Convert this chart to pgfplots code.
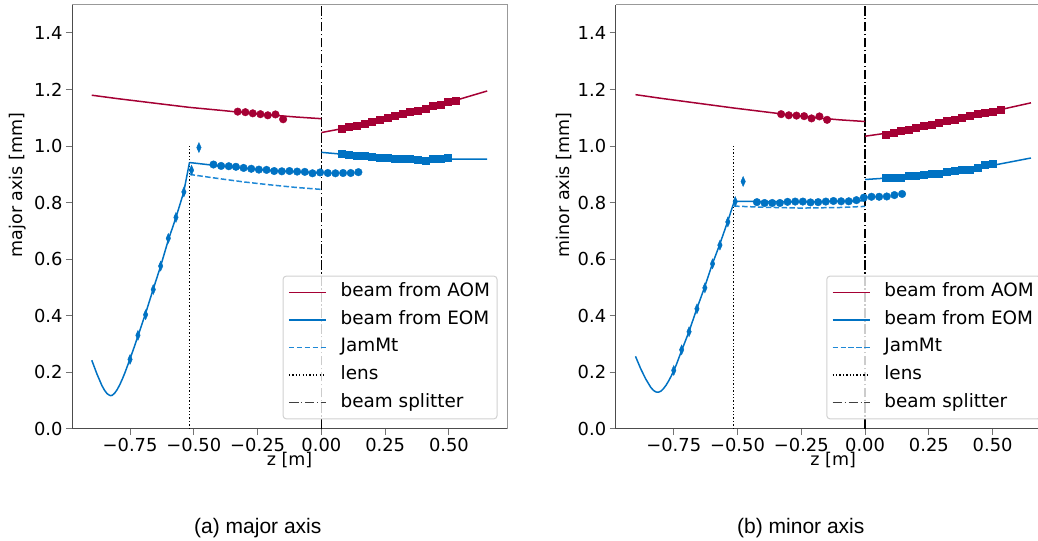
\documentclass[border=0pt]{standalone}
\usepackage{fontspec}
\setmainfont{DejaVu Sans}
\newfontfamily\capfont{Liberation Sans}
\usepackage{pgfplots}
\pgfplotsset{compat=1.18}
\definecolor{aom}{RGB}{165,0,52}
\definecolor{eom}{RGB}{0,114,195}
\definecolor{jam}{RGB}{30,136,214}
\newcommand{\fs}{\fontsize{17.5bp}{21bp}\selectfont}
\newcommand{\ft}{\fontsize{17.9bp}{21bp}\selectfont}
\newcommand{\fl}{\fontsize{18.4bp}{22bp}\selectfont}
\tikzset{
  lw/.style={line width=1.5bp},
  aomL/.style={draw=aom, line width=1.5bp},
  eomL/.style={draw=eom, line width=1.5bp},
  jamL/.style={draw=jam, line width=1.5bp, dash pattern=on 5.5bp off 2.4bp},
  lensL/.style={draw=black, line width=1.3bp, dash pattern=on 1.3bp off 2.1bp},
  bsL/.style={draw=black, line width=1.5bp, dash pattern=on 9.6bp off 2.4bp on 1.5bp off 2.4bp},
}
\pgfplotsset{
  myaxis/.style={
    scale only axis, width=435bp, height=424.3bp, anchor=south west,
    xmin=-0.9775, xmax=0.7275, ymin=0, ymax=1.5,
    xtick={-0.75,-0.5,-0.25,0,0.25,0.5},
    xticklabels={−0.75,−0.50,−0.25,0.00,0.25,0.50},
    ytick={0,0.2,0.4,0.6,0.8,1.0,1.2,1.4},
    yticklabels={0.0,0.2,0.4,0.6,0.8,1.0,1.2,1.4},
    axis x line*=bottom, axis y line*=left,
    axis line style={-, color=black!70, line width=1bp},
    tick align=outside, major tick length=6bp,
    tick style={color=black!55, line width=1bp},
    tick label style={font=\ft, text=black},
    extra description/.code={\draw[black!40, line width=1bp] (0,1) -- (1,1) -- (1,0);},
    legend style={at={(1,0)}, anchor=south east, xshift=-9.5bp, yshift=9.7bp,
      draw=black!18, line width=1bp, rounded corners=3bp, fill=white, fill opacity=0.8, text opacity=1,
      font=\fl, inner xsep=5bp, inner ysep=5.6bp, row sep=6.6bp,
      nodes={inner sep=2bp, text height=13bp, text depth=4bp},
      /tikz/every odd column/.append style={column sep=12bp}},
    legend cell align=left,
    legend image code/.code={\draw[##1] (0bp,0bp) -- (37bp,0bp);},
  },
  circ/.style={only marks, mark=*, mark size=3.8bp, forget plot},
  sq/.style={only marks, mark=square*, mark size=3.5bp, forget plot},
  dia/.style={only marks, mark=diamond*, mark size=5bp, mark options={xscale=0.6}, forget plot},
}
\begin{document}
\begin{tikzpicture}
% ---------------- (a) major axis ----------------
\begin{axis}[myaxis, at={(72bp,112bp)}]
\addplot[lensL, forget plot] coordinates {(-0.517,0) (-0.517,1.0)};
\addplot[bsL, forget plot] coordinates {(0,0) (0,1.5)};
% AOM
\addplot[aomL, forget plot] coordinates {(-0.9,1.180) (-0.8,1.168) (-0.7,1.157) (-0.6,1.146) (-0.517,1.137) (-0.4,1.127) (-0.3,1.118) (-0.2,1.110) (-0.1,1.103) (0,1.097)};
\addplot[aomL, forget plot] coordinates {(0,1.048) (0.1,1.065) (0.2,1.084) (0.3,1.106) (0.4,1.130) (0.5,1.155) (0.65,1.195)};
% EOM
\addplot[eomL, forget plot] coordinates {(-0.90,0.243) (-0.88,0.195) (-0.86,0.153) (-0.85,0.137) (-0.84,0.125) (-0.83,0.119) (-0.826,0.118) (-0.82,0.119) (-0.81,0.127) (-0.80,0.140) (-0.79,0.157) (-0.78,0.177) (-0.77,0.199) (-0.75,0.248) (-0.73,0.299) (-0.71,0.353) (-0.69,0.406) (-0.66,0.492) (-0.63,0.576) (-0.60,0.668) (-0.57,0.748) (-0.54,0.836) (-0.517,0.942)};
\addplot[eomL, forget plot] coordinates {(-0.517,0.942) (-0.4,0.930) (-0.3,0.921) (-0.2,0.914) (-0.1,0.909) (0,0.905)};
\addplot[eomL, forget plot] coordinates {(0,0.978) (0.05,0.974) (0.1,0.970) (0.2,0.963) (0.3,0.958) (0.4,0.955) (0.5,0.954) (0.65,0.954)};
\addplot[jamL, forget plot] coordinates {(-0.517,0.900) (-0.4,0.885) (-0.3,0.873) (-0.2,0.863) (-0.1,0.854) (0,0.847)};
% markers
\addplot[circ, color=aom] coordinates {(-0.328,1.122) (-0.298,1.120) (-0.269,1.116) (-0.239,1.113) (-0.210,1.109) (-0.180,1.112) (-0.150,1.095)};
\addplot[sq, color=aom] coordinates {(0.079,1.061) (0.108,1.068) (0.138,1.073) (0.168,1.081) (0.198,1.087) (0.228,1.093) (0.258,1.100) (0.287,1.107) (0.318,1.113) (0.346,1.120) (0.377,1.126) (0.407,1.133) (0.437,1.142) (0.467,1.148) (0.496,1.156) (0.526,1.162)};
\addplot[dia, color=eom] coordinates {(-0.750,0.246) (-0.719,0.331) (-0.689,0.404) (-0.659,0.493) (-0.630,0.576) (-0.600,0.674) (-0.570,0.748) (-0.539,0.838) (-0.509,0.915) (-0.480,0.995)};
\addplot[circ, color=eom] coordinates {(-0.423,0.935) (-0.393,0.930) (-0.363,0.929) (-0.335,0.927) (-0.305,0.923) (-0.275,0.920) (-0.245,0.917) (-0.215,0.916) (-0.185,0.912) (-0.155,0.911) (-0.125,0.912) (-0.095,0.910) (-0.065,0.909) (-0.035,0.904) (-0.005,0.907) (0.025,0.905) (0.055,0.904) (0.085,0.905) (0.115,0.905) (0.145,0.908)};
\addplot[sq, color=eom] coordinates {(0.079,0.974) (0.108,0.969) (0.138,0.967) (0.168,0.967) (0.198,0.963) (0.228,0.960) (0.258,0.958) (0.287,0.955) (0.318,0.956) (0.346,0.955) (0.377,0.951) (0.407,0.949) (0.437,0.955) (0.467,0.957) (0.496,0.958)};
\addlegendimage{draw=aom, line width=1.5bp}\addlegendentry{beam from AOM}
\addlegendimage{draw=eom, line width=1.5bp}\addlegendentry{beam from EOM}
\addlegendimage{draw=jam, line width=1.5bp, dash pattern=on 5.5bp off 2.4bp}\addlegendentry{JamMt}
\addlegendimage{draw=black, line width=1.3bp, dash pattern=on 1.3bp off 2.1bp}\addlegendentry{lens}
\addlegendimage{draw=black!75, line width=1.5bp, dash pattern=on 9.6bp off 2.4bp on 1.5bp off 2.4bp}\addlegendentry{beam splitter}
\end{axis}
% ---------------- (b) minor axis ----------------
\begin{axis}[myaxis, at={(615.7bp,112bp)}]
\addplot[lensL, forget plot] coordinates {(-0.516,0) (-0.516,1.0)};
\addplot[bsL, forget plot] coordinates {(0,0) (0,1.5)};
\addplot[aomL, forget plot] coordinates {(-0.9,1.182) (-0.8,1.169) (-0.7,1.157) (-0.6,1.145) (-0.517,1.135) (-0.4,1.122) (-0.3,1.111) (-0.2,1.101) (-0.1,1.093) (0,1.087)};
\addplot[aomL, forget plot] coordinates {(0,1.035) (0.1,1.048) (0.2,1.064) (0.3,1.083) (0.4,1.103) (0.5,1.123) (0.65,1.153)};
\addplot[eomL, forget plot] coordinates {(-0.90,0.257) (-0.88,0.214) (-0.86,0.177) (-0.84,0.147) (-0.83,0.137) (-0.82,0.131) (-0.81,0.130) (-0.80,0.134) (-0.79,0.143) (-0.78,0.155) (-0.77,0.170) (-0.76,0.187) (-0.75,0.206) (-0.74,0.227) (-0.72,0.275) (-0.69,0.345) (-0.66,0.424) (-0.63,0.499) (-0.60,0.580) (-0.57,0.652) (-0.54,0.730) (-0.513,0.804)};
\addplot[eomL, forget plot] coordinates {(-0.513,0.805) (-0.4,0.804) (-0.25,0.803) (-0.1,0.805) (0,0.807)};
\addplot[eomL, forget plot] coordinates {(0,0.882) (0.1,0.888) (0.2,0.896) (0.3,0.906) (0.4,0.918) (0.5,0.932) (0.65,0.958)};
\addplot[jamL, forget plot] coordinates {(-0.513,0.788) (-0.4,0.784) (-0.25,0.781) (-0.1,0.783) (0,0.787)};
\addplot[circ, color=aom] coordinates {(-0.329,1.113) (-0.299,1.109) (-0.269,1.108) (-0.239,1.106) (-0.210,1.098) (-0.179,1.105) (-0.149,1.093)};
\addplot[sq, color=aom] coordinates {(0.081,1.042) (0.111,1.048) (0.140,1.053) (0.170,1.059) (0.200,1.066) (0.230,1.071) (0.260,1.077) (0.290,1.083) (0.320,1.090) (0.350,1.095) (0.380,1.100) (0.409,1.106) (0.440,1.113) (0.470,1.117) (0.500,1.123) (0.531,1.129)};
\addplot[dia, color=eom] coordinates {(-0.750,0.207) (-0.719,0.280) (-0.690,0.344) (-0.659,0.425) (-0.628,0.499) (-0.598,0.584) (-0.569,0.650) (-0.538,0.732) (-0.509,0.804) (-0.478,0.875)};
\addplot[circ, color=eom] coordinates {(-0.424,0.802) (-0.394,0.799) (-0.364,0.799) (-0.334,0.799) (-0.304,0.803) (-0.274,0.804) (-0.244,0.804) (-0.214,0.801) (-0.184,0.802) (-0.154,0.804) (-0.124,0.806) (-0.094,0.805) (-0.064,0.805) (-0.034,0.809) (-0.005,0.818) (0.025,0.821) (0.055,0.821) (0.085,0.822) (0.115,0.827) (0.145,0.831)};
\addplot[sq, color=eom] coordinates {(0.081,0.890) (0.111,0.890) (0.140,0.890) (0.170,0.896) (0.200,0.896) (0.230,0.898) (0.260,0.903) (0.290,0.904) (0.320,0.909) (0.350,0.914) (0.380,0.915) (0.409,0.917) (0.440,0.925) (0.470,0.933) (0.500,0.937)};
\addlegendimage{draw=aom, line width=1.5bp}\addlegendentry{beam from AOM}
\addlegendimage{draw=eom, line width=1.5bp}\addlegendentry{beam from EOM}
\addlegendimage{draw=jam, line width=1.5bp, dash pattern=on 5.5bp off 2.4bp}\addlegendentry{JamMt}
\addlegendimage{draw=black, line width=1.3bp, dash pattern=on 1.3bp off 2.1bp}\addlegendentry{lens}
\addlegendimage{draw=black!75, line width=1.5bp, dash pattern=on 9.6bp off 2.4bp on 1.5bp off 2.4bp}\addlegendentry{beam splitter}
\end{axis}
% labels
\node[rotate=90, font=\fs] at (18bp,356bp) {major axis [mm]};
\node[rotate=90, font=\fs] at (564bp,356bp) {minor axis [mm]};
\node[anchor=base, font=\fs] at (289.5bp,75.5bp) {z [m]};
\node[anchor=base, font=\fs] at (833.2bp,75.5bp) {z [m]};
\node[anchor=base, font=\capfont\fontsize{21bp}{25bp}\selectfont] at (257.8bp,8bp) {(a) major axis};
\node[anchor=base, font=\capfont\fontsize{21bp}{25bp}\selectfont] at (800.8bp,8bp) {(b) minor axis};
\pgfresetboundingbox
\useasboundingbox (0,0) rectangle (1038bp,541bp);
\end{tikzpicture}
\end{document}
